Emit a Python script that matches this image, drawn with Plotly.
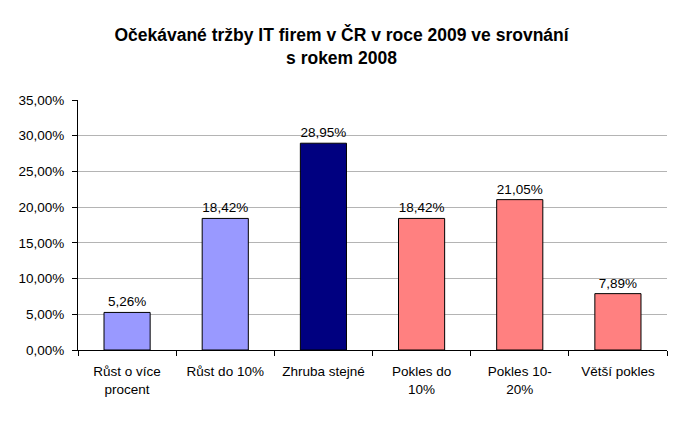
import plotly.graph_objects as go

categories = ["Růst o více<br>procent", "Růst do 10%", "Zhruba stejné", "Pokles do<br>10%", "Pokles 10-<br>20%", "Větší pokles"]
values = [0.0526, 0.1842, 0.2895, 0.1842, 0.2105, 0.0789]
colors = ["#9999FF", "#9999FF", "#000080", "#FF8080", "#FF8080", "#FF8080"]
yticks = [0, 0.05, 0.10, 0.15, 0.20, 0.25, 0.30, 0.35]

fig = go.Figure(go.Bar(
    x=categories, y=values,
    marker=dict(color=colors, line=dict(color="black", width=1)),
    width=0.47,
    texttemplate="%{y:.2%}", textposition="outside",
    textfont=dict(family="Liberation Sans, Arial", size=13.5, color="black"),
    cliponaxis=False,
))

fig.update_layout(
    width=683, height=421,
    margin=dict(l=78, r=16, t=100, b=71),
    paper_bgcolor="white", plot_bgcolor="white",
    separators=", ",
    showlegend=False,
    title=dict(text="<b>Očekávané tržby IT firem v ČR v roce 2009 ve srovnání<br>s rokem 2008</b>",
               x=0.5, xanchor="center", y=0.903, yanchor="middle",
               font=dict(family="Liberation Sans, Arial", size=17.5, color="black")),
    font=dict(family="Liberation Sans, Arial", size=13.5, color="black"),
)
fig.update_xaxes(
    showline=True, linecolor="black", linewidth=1,
    ticks="outside", tickson="boundaries", ticklen=5, tickcolor="black",
    ticklabelstandoff=9,
    tickfont=dict(size=13.5), showgrid=False,
)
fig.update_yaxes(
    range=[0, 0.35], tickvals=yticks, tickformat=".2%",
    showline=True, linecolor="black", linewidth=1,
    ticks="outside", ticklen=5, tickcolor="black",
    ticklabelstandoff=5,
    showgrid=True, gridcolor="#b4b4b4", gridwidth=1,
    zeroline=False, tickfont=dict(size=13.5),
)
fig.add_shape(type="line", xref="paper", yref="y", x0=0.003, x1=1, y0=0.35, y1=0.35,
              line=dict(color="white", width=2))
fig.write_html("out.html")
